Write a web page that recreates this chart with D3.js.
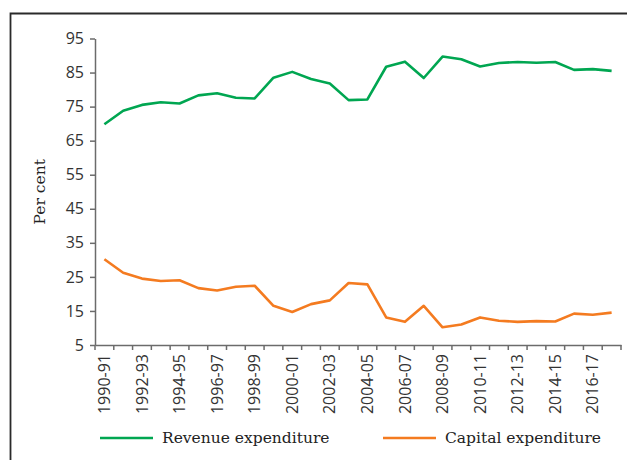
<!DOCTYPE html>
<html lang="en">
<head>
  <meta charset="utf-8">
  <title>Revenue and capital expenditure</title>
  <style>
    body { margin: 0; background: #fff; }
    .tick text { font-family: "Open Sans", sans-serif; font-size: 16px; fill: #333; }
    .axis path, .axis line { stroke: #6b6b6b; stroke-width: 1.5; }
    .serif { font-family: "DejaVu Serif", serif; font-size: 15.5px; fill: #222; }
  </style>
</head>
<body>
  <div id="chart"></div>

  <script src="https://d3js.org/d3.v7.min.js"></script>
  <script>
    const years = [
      '1990-91', '1991-92', '1992-93', '1993-94', '1994-95', '1995-96', '1996-97',
      '1997-98', '1998-99', '1999-00', '2000-01', '2001-02', '2002-03', '2003-04',
      '2004-05', '2005-06', '2006-07', '2007-08', '2008-09', '2009-10', '2010-11',
      '2011-12', '2012-13', '2013-14', '2014-15', '2015-16', '2016-17', '2017-18'
    ];
    const revenue = [
      69.8, 73.8, 75.5, 76.3, 75.9, 78.3, 78.9, 77.6, 77.4, 83.5, 85.2, 83.1, 81.8, 76.9,
      77.1, 86.7, 88.2, 83.4, 89.7, 88.9, 86.8, 87.8, 88.1, 87.9, 88.1, 85.8, 86.0, 85.5
    ];
    const capital = [
      30.2, 26.2, 24.5, 23.8, 24.0, 21.7, 21.0, 22.1, 22.4, 16.5, 14.7, 17.0, 18.1, 23.2,
      22.8, 13.1, 11.8, 16.5, 10.2, 11.0, 13.1, 12.1, 11.8, 12.0, 11.9, 14.2, 13.9, 14.5
    ];
    const yTicks = [5, 15, 25, 35, 45, 55, 65, 75, 85, 95];
    const seriesNames = ['Revenue expenditure', 'Capital expenditure'];
    const colors = ['#00a651', '#f47b20'];

    const width = 627;
    const height = 460;
    const margin = { top: 38.5, right: 6, bottom: 115, left: 95 };

    const svg = d3.select('#chart').append('svg')
      .attr('width', width)
      .attr('height', height);

    // frame (only top and left edges show)
    svg.append('path')
      .attr('d', `M10.5,${height} V13.5 H${width}`)
      .attr('fill', 'none')
      .attr('stroke', '#2a2a2a')
      .attr('stroke-width', 1.8);

    const x = d3.scaleBand()
      .domain(years)
      .range([margin.left, width - margin.right]);
    const y = d3.scaleLinear()
      .domain([5, 95])
      .range([height - margin.bottom, margin.top]);

    const xAxis = d3.axisBottom(x)
      .tickSizeInner(5)
      .tickSizeOuter(0)
      .tickFormat((d, i) => i % 2 === 0 ? d : '');

    const gx = svg.append('g')
      .attr('class', 'axis')
      .attr('transform', `translate(0,${y(5)})`)
      .call(xAxis);
    // ticks sit on band edges
    gx.selectAll('.tick line')
      .attr('x1', -x.bandwidth() / 2)
      .attr('x2', -x.bandwidth() / 2);
    gx.append('line')
      .attr('x1', x.range()[1]).attr('x2', x.range()[1])
      .attr('y1', 0).attr('y2', 5);
    gx.selectAll('.tick text')
      .attr('transform', 'rotate(-90)')
      .attr('text-anchor', 'end')
      .attr('x', -9)
      .attr('y', 0)
      .attr('dy', '0.35em');

    svg.append('g')
      .attr('class', 'axis')
      .attr('transform', `translate(${margin.left},0)`)
      .call(d3.axisLeft(y).tickValues(yTicks).tickSizeInner(5).tickSizeOuter(0).tickPadding(6));

    svg.append('text')
      .attr('class', 'serif')
      .attr('transform', `translate(45,${(y(95) + y(5)) / 2}) rotate(-90)`)
      .attr('text-anchor', 'middle')
      .text('Per cent');

    const line = d3.line()
      .x((d, i) => x(years[i]) + x.bandwidth() / 2)
      .y(d => y(d));

    [revenue, capital].forEach((values, k) => {
      svg.append('path')
        .datum(values)
        .attr('fill', 'none')
        .attr('stroke', colors[k])
        .attr('stroke-width', 2.6)
        .attr('stroke-linejoin', 'round')
        .attr('d', line);
    });

    // legend
    const legendX = [100, 383];
    seriesNames.forEach((name, k) => {
      const g = svg.append('g').attr('transform', `translate(${legendX[k]},438)`);
      g.append('line')
        .attr('x1', 0).attr('x2', 53)
        .attr('stroke', colors[k])
        .attr('stroke-width', 2.6);
      g.append('text')
        .attr('class', 'serif')
        .attr('x', 62)
        .attr('dy', '0.35em')
        .text(name);
    });
  </script>
</body>
</html>
